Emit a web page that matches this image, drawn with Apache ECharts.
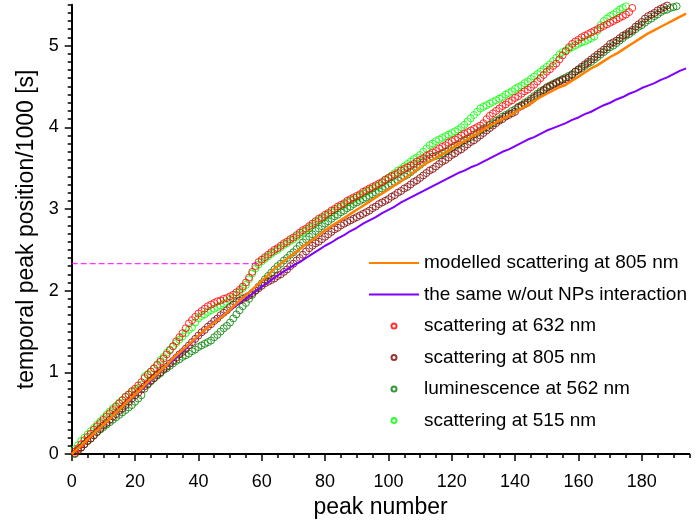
<!DOCTYPE html>
<html><head><meta charset="utf-8">
<script src="https://cdn.jsdelivr.net/npm/echarts@6/dist/echarts.min.js"></script>
<style>html,body{margin:0;padding:0;background:#fff}#c{width:700px;height:524px}</style>
</head><body><div id="c"></div>
<script>
// ---- data ----
// scatter series: y-values at peak numbers 1, 2, 3, ...
const scat632 = [0.03,0.07,0.12,0.17,0.21,0.25,0.30,0.34,0.38,0.42,0.46,0.50,0.54,0.58,0.62,0.66,0.70,0.73,0.77,0.80,
0.84,0.88,0.93,0.97,1.01,1.05,1.09,1.13,1.17,1.22,1.27,1.32,1.38,1.43,1.48,1.54,1.60,1.64,1.68,1.72,
1.75,1.78,1.81,1.83,1.85,1.87,1.88,1.90,1.91,1.93,1.95,1.98,2.01,2.05,2.10,2.16,2.23,2.30,2.35,2.38,
2.41,2.44,2.47,2.50,2.52,2.55,2.58,2.60,2.63,2.65,2.68,2.71,2.74,2.76,2.79,2.82,2.85,2.88,2.90,2.93,
2.95,2.98,3.00,3.03,3.05,3.07,3.10,3.12,3.14,3.16,3.18,3.21,3.23,3.25,3.27,3.29,3.31,3.33,3.36,3.38,
3.40,3.42,3.44,3.47,3.49,3.51,3.53,3.55,3.58,3.60,3.62,3.65,3.67,3.69,3.71,3.74,3.76,3.78,3.81,3.83,
3.85,3.87,3.90,3.92,3.94,3.96,3.98,4.00,4.02,4.05,4.10,4.14,4.17,4.20,4.23,4.26,4.28,4.31,4.33,4.36,
4.38,4.41,4.44,4.46,4.49,4.52,4.56,4.60,4.64,4.68,4.71,4.75,4.78,4.83,4.88,4.93,4.98,5.02,5.05,5.07,
5.10,5.12,5.14,5.16,5.18,5.20,5.22,5.24,5.26,5.28,5.30,5.32,5.34,5.36,5.38,5.41,5.46];
const scat805 = [0.01,0.05,0.08,0.12,0.16,0.19,0.23,0.27,0.31,0.35,0.38,0.42,0.46,0.49,0.53,0.56,0.60,0.64,0.68,0.72,
0.75,0.79,0.83,0.86,0.90,0.93,0.97,1.00,1.04,1.07,1.11,1.14,1.18,1.22,1.25,1.29,1.33,1.37,1.41,1.45,
1.49,1.52,1.56,1.59,1.63,1.66,1.70,1.73,1.76,1.80,1.83,1.86,1.88,1.90,1.92,1.94,1.97,2.00,2.03,2.06,
2.09,2.11,2.13,2.15,2.18,2.20,2.23,2.26,2.30,2.33,2.37,2.40,2.44,2.48,2.52,2.55,2.58,2.60,2.63,2.66,
2.69,2.72,2.75,2.77,2.80,2.82,2.84,2.86,2.88,2.90,2.92,2.94,2.96,2.98,3.01,3.03,3.06,3.08,3.10,3.12,
3.15,3.17,3.20,3.22,3.25,3.27,3.30,3.33,3.35,3.38,3.41,3.44,3.47,3.49,3.52,3.55,3.58,3.60,3.63,3.66,
3.68,3.71,3.73,3.76,3.79,3.82,3.84,3.87,3.90,3.93,3.96,3.99,4.02,4.05,4.08,4.10,4.13,4.15,4.17,4.19,
4.24,4.26,4.28,4.30,4.33,4.36,4.39,4.42,4.45,4.48,4.50,4.52,4.54,4.56,4.58,4.59,4.61,4.64,4.68,4.71,
4.74,4.77,4.80,4.83,4.86,4.89,4.92,4.95,4.98,5.02,5.04,5.06,5.09,5.12,5.14,5.17,5.19,5.23,5.26,5.29,
5.33,5.36,5.38,5.40,5.43,5.45,5.47,5.49];
const lum562 = [0.00,0.04,0.08,0.12,0.16,0.19,0.23,0.27,0.30,0.33,0.36,0.39,0.42,0.45,0.48,0.51,0.54,0.57,0.60,0.64,
0.68,0.72,0.80,0.85,0.89,0.93,0.96,0.99,1.03,1.05,1.08,1.11,1.14,1.16,1.19,1.21,1.23,1.26,1.28,1.31,
1.33,1.35,1.37,1.39,1.43,1.46,1.50,1.54,1.57,1.61,1.66,1.71,1.76,1.81,1.85,1.90,1.95,2.00,2.05,2.09,
2.14,2.18,2.22,2.26,2.30,2.33,2.37,2.40,2.44,2.47,2.51,2.55,2.59,2.63,2.66,2.69,2.73,2.76,2.79,2.82,
2.85,2.88,2.91,2.93,2.96,2.98,3.01,3.03,3.06,3.08,3.10,3.12,3.14,3.16,3.18,3.20,3.22,3.25,3.27,3.29,
3.31,3.33,3.35,3.38,3.40,3.42,3.45,3.48,3.51,3.54,3.57,3.60,3.62,3.64,3.65,3.66,3.68,3.70,3.72,3.75,
3.77,3.79,3.82,3.84,3.86,3.88,3.91,3.93,3.96,3.98,4.00,4.03,4.05,4.08,4.10,4.13,4.15,4.17,4.20,4.22,
4.25,4.27,4.30,4.32,4.35,4.38,4.41,4.44,4.46,4.49,4.51,4.53,4.55,4.57,4.59,4.61,4.63,4.65,4.68,4.70,
4.72,4.75,4.78,4.80,4.83,4.86,4.89,4.92,4.95,4.98,5.00,5.03,5.06,5.09,5.12,5.14,5.17,5.20,5.23,5.25,
5.28,5.31,5.33,5.36,5.38,5.41,5.43,5.44,5.46,5.47,5.48];
const scat515 = [0.06,0.11,0.16,0.20,0.24,0.28,0.32,0.36,0.40,0.44,0.48,0.52,0.56,0.59,0.63,0.66,0.70,0.73,0.76,0.78,
0.81,0.85,0.95,0.98,1.01,1.05,1.10,1.15,1.19,1.24,1.28,1.32,1.36,1.40,1.44,1.48,1.52,1.55,1.61,1.66,
1.69,1.71,1.74,1.76,1.78,1.80,1.82,1.84,1.86,1.89,1.91,1.95,1.99,2.03,2.07,2.14,2.21,2.27,2.32,2.36,
2.39,2.42,2.45,2.48,2.50,2.53,2.56,2.58,2.61,2.63,2.66,2.69,2.72,2.74,2.77,2.80,2.83,2.86,2.88,2.91,
2.93,2.96,2.98,3.01,3.03,3.05,3.08,3.10,3.12,3.14,3.16,3.19,3.21,3.23,3.25,3.27,3.29,3.32,3.35,3.38,
3.41,3.44,3.47,3.49,3.52,3.55,3.58,3.61,3.63,3.66,3.70,3.74,3.78,3.80,3.83,3.85,3.87,3.89,3.91,3.93,
3.95,3.97,4.00,4.03,4.07,4.11,4.15,4.19,4.23,4.25,4.27,4.29,4.31,4.33,4.35,4.37,4.40,4.42,4.44,4.47,
4.49,4.51,4.54,4.56,4.59,4.62,4.65,4.68,4.71,4.74,4.77,4.81,4.85,4.89,4.92,4.94,4.96,4.98,5.00,5.02,
5.04,5.05,5.07,5.09,5.11,5.18,5.25,5.30,5.33,5.36,5.38,5.41,5.44,5.46,5.48];
// model lines: y-values at peak numbers 0, 2, 4, ..., 194
const lineStep = 2;
const model805 = [0.00,0.07,0.14,0.22,0.29,0.36,0.43,0.51,0.58,0.66,0.73,0.80,0.88,0.95,1.02,1.09,1.17,1.24,1.31,1.38,
1.45,1.52,1.58,1.64,1.70,1.77,1.84,1.91,1.98,2.05,2.12,2.19,2.27,2.33,2.39,2.45,2.51,2.57,2.62,2.68,
2.74,2.79,2.84,2.89,2.94,2.99,3.04,3.09,3.14,3.19,3.24,3.29,3.34,3.40,3.45,3.51,3.56,3.60,3.65,3.69,
3.74,3.79,3.83,3.88,3.92,3.97,4.02,4.06,4.10,4.14,4.18,4.23,4.27,4.32,4.37,4.41,4.45,4.49,4.52,4.57,
4.62,4.67,4.72,4.76,4.81,4.86,4.90,4.95,5.00,5.05,5.10,5.15,5.19,5.23,5.27,5.31,5.35,5.39];
const noNPs = [0.00,0.07,0.14,0.22,0.29,0.36,0.43,0.51,0.58,0.65,0.72,0.79,0.86,0.94,1.01,1.08,1.15,1.22,1.29,1.37,
1.44,1.52,1.59,1.65,1.71,1.76,1.82,1.88,1.93,1.99,2.05,2.10,2.16,2.21,2.26,2.31,2.35,2.40,2.45,2.50,
2.55,2.59,2.64,2.68,2.73,2.77,2.82,2.86,2.90,2.95,2.99,3.03,3.08,3.12,3.16,3.20,3.24,3.28,3.32,3.36,
3.40,3.44,3.47,3.51,3.54,3.58,3.62,3.66,3.70,3.73,3.77,3.81,3.85,3.88,3.92,3.96,3.99,4.02,4.05,4.09,
4.12,4.16,4.19,4.23,4.27,4.30,4.34,4.37,4.41,4.44,4.48,4.51,4.54,4.58,4.61,4.65,4.69,4.72];
// dashed guide line
const guideX = [0, 58.5];
const guideY = [2.33, 2.33];
// axis ticks
const xTicks = [0,20,40,60,80,100,120,140,160,180];
const yTicks = [0,1,2,3,4,5];
const names = ['modelled scattering at 805 nm','the same w/out NPs interaction','scattering at 632 nm','scattering at 805 nm','luminescence at 562 nm','scattering at 515 nm'];

const FONT = "'Liberation Sans', Arial, sans-serif";
const pts = (arr, start, step) => arr.map((v, i) => [start + i * step, v]);

function scatter(name, arr, color) {
  return {
    name, type: 'scatter', data: pts(arr, 1, 1), symbol: 'circle', symbolSize: 7,
    itemStyle: { color: 'rgba(0,0,0,0)', borderColor: color, borderWidth: 1 },
    emphasis: { disabled: true }, silent: true, z: 2
  };
}
function line(name, arr, color, w) {
  return {
    name, type: 'line', data: pts(arr, 0, lineStep), symbol: 'none', showSymbol: false,
    lineStyle: { color, width: w }, itemStyle: { color }, emphasis: { disabled: true }, silent: true, z: 3
  };
}

const legendData = names.map((n, i) => i < 2
  ? { name: n, itemStyle: { color: 'rgba(0,0,0,0)', borderWidth: 0, opacity: 0 } }
  : { name: n });

const chart = echarts.init(document.getElementById('c'), null, { renderer: 'canvas' });
chart.setOption({
  animation: false,
  backgroundColor: '#fff',
  textStyle: { fontFamily: FONT },
  grid: { left: 71.7, right: 10.7, top: 4.7, bottom: 68.4, containLabel: false },
  legend: {
    orient: 'vertical', left: 368, top: 253, padding: 0,
    itemWidth: 50, itemHeight: 5, itemGap: 11.5,
    textStyle: { fontSize: 19, lineHeight: 20, color: '#000', fontFamily: FONT },
    data: legendData, selectedMode: false
  },
  xAxis: [
    { type: 'value', min: 0, max: 195, interval: 5, position: 'bottom',
      axisLine: { show: true, onZero: false, lineStyle: { color: '#000', width: 2 } },
      axisTick: { show: true, length: 4, lineStyle: { color: '#000', width: 1.5 } },
      axisLabel: { show: false }, splitLine: { show: false } },
    { type: 'value', min: 0, max: 195, position: 'bottom',
      name: 'peak number', nameLocation: 'middle', nameGap: 40,
      nameTextStyle: { fontSize: 23, color: '#000', fontFamily: FONT },
      axisLine: { show: false, onZero: false },
      axisTick: { show: true, length: 7, customValues: xTicks, lineStyle: { color: '#000', width: 1.5 } },
      axisLabel: { show: true, customValues: xTicks, margin: 19, fontSize: 18, color: '#000', fontFamily: FONT },
      splitLine: { show: false } }
  ],
  yAxis: [
    { type: 'value', min: 0, max: 5.5, interval: 0.1, position: 'left',
      axisLine: { show: true, onZero: false, lineStyle: { color: '#000', width: 2 } },
      axisTick: { show: true, length: 4, lineStyle: { color: '#000', width: 1.5 } },
      axisLabel: { show: false }, splitLine: { show: false } },
    { type: 'value', min: 0, max: 5.5, position: 'left',
      name: 'temporal peak position/1000 [s]', nameLocation: 'middle', nameGap: 34,
      nameTextStyle: { fontSize: 23, color: '#000', fontFamily: FONT },
      axisLine: { show: false, onZero: false },
      axisTick: { show: true, length: 7, customValues: yTicks, lineStyle: { color: '#000', width: 1.5 } },
      axisLabel: { show: true, customValues: yTicks, margin: 13, fontSize: 18, color: '#000', fontFamily: FONT },
      splitLine: { show: false } }
  ],
  series: [
    scatter(names[5], scat515, '#00ff00'),
    scatter(names[4], lum562, '#008000'),
    scatter(names[3], scat805, '#800000'),
    scatter(names[2], scat632, '#ff0000'),
    line(names[1], noNPs, '#8000ff', 2),
    line(names[0], model805, '#ff8000', 2.5),
    { type: 'line', data: guideX.map((x, i) => [x, guideY[i]]), symbol: 'none',
      lineStyle: { color: '#ff00ff', width: 1, type: [6, 3] }, silent: true, z: 4 }
  ]
});
</script></body></html>
